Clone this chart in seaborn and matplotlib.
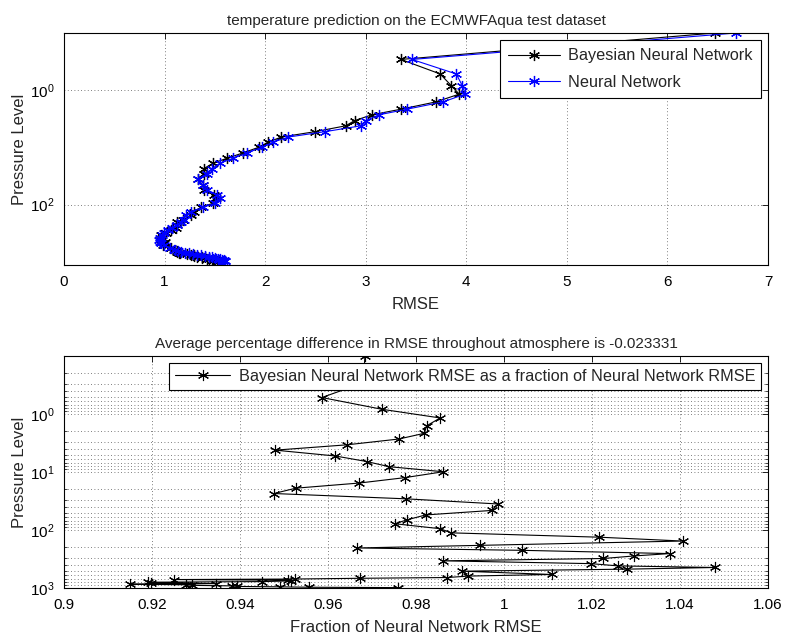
import numpy as np
import pandas as pd
import matplotlib
matplotlib.use("Agg")
import matplotlib.pyplot as plt
from matplotlib.ticker import LogLocator, NullFormatter, FixedLocator
import seaborn as sns

# ---------------- data ----------------
pressure = [0.10, 0.29, 0.52, 0.83, 1.17, 1.6, 2.15, 2.7, 3.4, 4.2,
            5.3, 6.6, 8.1, 9.9, 12.5, 15.5, 19.0, 23.5, 29.0, 35.6,
            46.0, 55.0, 67.0, 78.0, 95.0, 112.0, 133.0, 155.0, 184.0, 204.0,
            224.0, 255.0, 280.0, 310.0, 340.0, 380.0, 416.0, 443.0, 473.0, 513.0,
            584.0, 623.0, 660.0, 680.0, 700.0, 715.0, 735.0, 755.0, 775.0, 795.0,
            815.0, 840.0, 860.0, 880.0, 900.0, 920.0, 940.0, 955.0, 970.0, 985.0]

nn_rmse = [6.68, 3.46, 3.90, 3.96, 3.99, 3.77, 3.41, 3.13, 3.00, 2.95,
           2.60, 2.23, 2.08, 1.97, 1.82, 1.68, 1.55, 1.47, 1.42, 1.33,
           1.38, 1.42, 1.52, 1.55, 1.50, 1.38, 1.26, 1.21, 1.19, 1.16,
           1.12, 1.07, 1.03, 0.99, 0.97, 0.95, 0.94, 0.95, 0.96, 0.99,
           1.05, 1.10, 1.13, 1.16, 1.20, 1.24, 1.28, 1.32, 1.36, 1.40,
           1.44, 1.47, 1.50, 1.53, 1.55, 1.57, 1.59, 1.60, 1.60, 1.58]

bnn_rmse = [6.47, 3.35, 3.74, 3.85, 3.93, 3.70, 3.35, 3.06, 2.89, 2.80,
            2.50, 2.16, 2.03, 1.94, 1.78, 1.62, 1.48, 1.39, 1.39, 1.33,
            1.38, 1.39, 1.49, 1.51, 1.48, 1.36, 1.29, 1.26, 1.18, 1.12,
            1.12, 1.11, 1.06, 1.01, 0.96, 0.97, 0.96, 1.00, 0.99, 0.98,
            1.06, 1.09, 1.12, 1.12, 1.14, 1.15, 1.22, 1.26, 1.29, 1.29,
            1.32, 1.37, 1.37, 1.42, 1.44, 1.47, 1.49, 1.52, 1.53, 1.54]

ratio = [0.9684, 0.9680, 0.9586, 0.9723, 0.9855, 0.9824, 0.9819, 0.9761, 0.9643, 0.9480,
         0.9617, 0.9688, 0.9739, 0.9862, 0.9775, 0.9671, 0.9527, 0.9477, 0.9777, 0.9987,
         0.9972, 0.9822, 0.9779, 0.9752, 0.9855, 0.9880, 1.0216, 1.0406, 0.9945, 0.9667,
         1.0040, 1.0377, 1.0296, 1.0226, 0.9861, 1.0197, 1.0260, 1.0480, 1.0280, 0.9905,
         1.0108, 0.9919, 0.9871, 0.9673, 0.9525, 0.9250, 0.9510, 0.9515, 0.9450, 0.9190,
         0.9198, 0.9345, 0.9149, 0.9277, 0.9292, 0.9382, 0.9394, 0.9490, 0.9557, 0.9760]

title_top = "temperature prediction on the ECMWFAqua test dataset"
title_bottom = "Average percentage difference in RMSE throughout atmosphere is -0.023331"
label_bnn = "Bayesian Neural Network"
label_nn = "Neural Network"
label_ratio = "Bayesian Neural Network RMSE as a fraction of Neural Network RMSE"
xticks_top = [0, 1, 2, 3, 4, 5, 6, 7]
xticks_bottom = [0.9, 0.92, 0.94, 0.96, 0.98, 1.0, 1.02, 1.04, 1.06]
xticklabels_bottom = ["0.9", "0.92", "0.94", "0.96", "0.98", "1", "1.02", "1.04", "1.06"]

# ---------------- style ----------------
sns.set_theme(style="white")
plt.rcParams["font.family"] = ["Liberation Sans", "DejaVu Sans"]
plt.rcParams["mathtext.default"] = "regular"
plt.rcParams["axes.edgecolor"] = "black"
plt.rcParams["axes.linewidth"] = 0.8
plt.rcParams["xtick.color"] = "black"
plt.rcParams["ytick.color"] = "black"
FS = 11

top_df = pd.DataFrame({"p": pressure, "bnn": bnn_rmse, "nn": nn_rmse})
bot_df = pd.DataFrame({"p": pressure, "ratio": ratio})

fig = plt.figure(figsize=(7.86, 6.4), dpi=100)
ax1 = fig.add_axes([64 / 786, 1 - 265 / 640, (768 - 64) / 786, (265 - 33) / 640])
ax2 = fig.add_axes([64 / 786, 1 - 588 / 640, (768 - 64) / 786, (588 - 356) / 640])

star = (6, 2, 0)

sns.lineplot(data=top_df, x="bnn", y="p", sort=False, estimator=None, ax=ax1,
             color="black", lw=0.8, marker=star, markersize=8, markeredgewidth=0.9,
             markeredgecolor="black", label=label_bnn)
sns.lineplot(data=top_df, x="nn", y="p", sort=False, estimator=None, ax=ax1,
             color="#0000ff", lw=0.8, marker=star, markersize=8, markeredgewidth=0.9,
             markeredgecolor="#0000ff", label=label_nn)

sns.lineplot(data=bot_df, x="ratio", y="p", sort=False, estimator=None, ax=ax2,
             color="black", lw=0.8, marker=star, markersize=8, markeredgewidth=0.8,
             markeredgecolor="black", label=label_ratio)

for ax in (ax1, ax2):
    ax.set_yscale("log")
    ax.tick_params(direction="in", top=True, right=True, labelsize=FS,
                   length=4, width=0.6, pad=7)
    ax.tick_params(which="minor", direction="in", left=True, right=True, length=2, width=0.5)
    for s in ax.spines.values():
        s.set_color("black")
        s.set_linewidth(0.8)

# top axes
ax1.set_xlim(0, 7)
ax1.set_ylim(1140, 0.1)
ax1.xaxis.set_major_locator(FixedLocator(xticks_top))
ax1.yaxis.set_major_locator(FixedLocator([1, 100]))
ax1.yaxis.set_minor_locator(FixedLocator([]))
ax1.yaxis.set_minor_formatter(NullFormatter())
ax1.grid(True, which="major", ls=(0, (1, 3)), color="#555555", lw=0.6)
ax1.set_title(title_top, fontsize=FS, pad=6)
ax1.set_xlabel("RMSE", fontsize=FS + 1, labelpad=6)
ax1.set_ylabel("Pressure Level", fontsize=FS + 1, labelpad=2)
leg1 = ax1.legend(loc="upper right", fontsize=FS + 0.7, frameon=True, fancybox=False,
                  framealpha=1, edgecolor="black", handlelength=3.2, borderaxespad=0.45,
                  borderpad=0.5, labelspacing=0.7, handletextpad=0.5)
leg1.get_frame().set_linewidth(0.8)

# bottom axes
ax2.set_xlim(0.9, 1.06)
ax2.set_ylim(1000, 0.1)
ax2.xaxis.set_major_locator(FixedLocator(xticks_bottom))
ax2.set_xticklabels(xticklabels_bottom)
ax2.yaxis.set_major_locator(FixedLocator([1, 10, 100, 1000]))
ax2.yaxis.set_minor_locator(LogLocator(base=10, subs=np.arange(2, 10), numticks=20))
ax2.yaxis.set_minor_formatter(NullFormatter())
ax2.grid(True, which="major", ls=(0, (1, 3)), color="#555555", lw=0.6)
ax2.grid(True, which="minor", axis="y", ls=(0, (1, 3)), color="#555555", lw=0.6)
ax2.set_title(title_bottom, fontsize=FS, pad=6)
ax2.set_xlabel("Fraction of Neural Network RMSE", fontsize=FS + 1, labelpad=6)
ax2.set_ylabel("Pressure Level", fontsize=FS + 1, labelpad=2)
leg2 = ax2.legend(loc="upper right", fontsize=FS + 0.7, frameon=True, fancybox=False,
                  framealpha=1, edgecolor="black", handlelength=3.4, borderaxespad=0.45,
                  borderpad=0.35, handletextpad=0.5)
leg2.get_frame().set_linewidth(0.8)

fig.savefig("out.png", dpi=100, facecolor="white")
